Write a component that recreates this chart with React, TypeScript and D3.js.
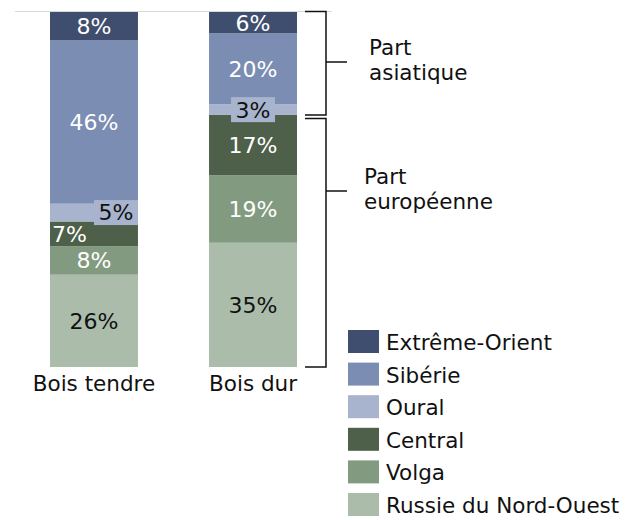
import React from "react";
import * as d3 from "d3";

const categories = ["Bois tendre", "Bois dur"];
const regions = ["Russie du Nord-Ouest", "Volga", "Central", "Oural", "Sibérie", "Extrême-Orient"];
const legendOrder = ["Extrême-Orient", "Sibérie", "Oural", "Central", "Volga", "Russie du Nord-Ouest"];
const boisTendre = [26, 8, 7, 5, 46, 8];
const boisDur = [35, 19, 17, 3, 20, 6];
const colors = ["#abbcab", "#829b80", "#4e6049", "#a8b4ce", "#7b8db2", "#3f4e6e"];
const labelColors = ["#111", "#fff", "#fff", "#111", "#fff", "#fff"];
const groupNames = [["Part", "asiatique"], ["Part", "européenne"]];

const FONT = "'DejaVu Sans', Verdana, sans-serif";

export default function App() {
  const W = 637, H = 520;
  const y = d3.scaleLinear().domain([0, 100]).range([367, 12]);
  const x = d3.scaleBand().domain(categories).range([50, 297]).paddingInner(0.447).paddingOuter(0);
  const data = [boisTendre, boisDur];
  const stack = d3.stack<number[]>().keys(regions.map((_, i) => String(i))).value((d, k) => d[+k]);
  const series = stack(data);
  const bw = x.bandwidth();

  // brace boundaries: European share of the hardwood bar (first 3 regions)
  const euro = d3.sum(boisDur.slice(0, 3));
  const braces = [
    { top: y(100) - 0.5, bot: y(euro) },
    { top: y(euro) + 3.5, bot: y(0) },
  ];
  const bx0 = 305, bx1 = 326, bx2 = 347;

  return (
    <svg width={W} height={H} style={{ position: "absolute", left: 0, top: 0 }} fontFamily={FONT}>
      <line x1={15} x2={332} y1={y(100) - 0.5} y2={y(100) - 0.5} stroke="#d9d9d9" strokeWidth={1} />
      {series.map((s, si) =>
        s.map((d, ci) => {
          const cat = categories[ci];
          const x0 = x(cat)!;
          const y0 = y(d[1]);
          const y1 = y(d[0]);
          return (
            <rect key={si + "-" + ci} x={x0} y={y0} width={bw} height={y1 - y0} fill={colors[si]} />
          );
        })
      )}
      {series.map((s, si) =>
        s.map((d, ci) => {
          const cat = categories[ci];
          const x0 = x(cat)!;
          const cy = (y(d[1]) + y(d[0])) / 2;
          const v = data[ci][si];
          const label = v + "%";
          let tx = x0 + bw / 2;
          let anchor: "middle" | "start" | "end" = "middle";
          let box = false;
          if (si === 3) box = true;
          if (ci === 0 && si === 3) { tx = x0 + bw - 22; }
          if (ci === 0 && si === 2) { tx = x0 + 2; anchor = "start"; }
          const bwid = 44, bh = 25;
          return (
            <g key={"l" + si + "-" + ci}>
              {box && <rect x={tx - bwid / 2} y={cy - bh / 2} width={bwid} height={bh} fill={colors[si]} />}
              <text x={tx} y={cy} dy="0.36em" textAnchor={anchor} fontSize={22} fill={labelColors[si]}>
                {label}
              </text>
            </g>
          );
        })
      )}
      {categories.map((c) => (
        <text key={c} x={x(c)! + bw / 2} y={391} textAnchor="middle" fontSize={21.5} fill="#111">
          {c}
        </text>
      ))}
      {braces.map((b, gi) => {
        const tickY = gi === 0 ? 62 : 191;
        return (
          <g key={gi} stroke="#111" strokeWidth={1.5} fill="none">
            <path d={`M${bx0},${b.top}H${bx1}V${b.bot}H${bx0}`} />
            <line x1={bx1} x2={bx2} y1={tickY} y2={tickY} />
          </g>
        );
      })}
      <g fontSize={21.5} fill="#111">
        <text x={369} y={55}>{groupNames[0][0]}</text>
        <text x={369} y={80}>{groupNames[0][1]}</text>
        <text x={364} y={184}>{groupNames[1][0]}</text>
        <text x={364} y={209}>{groupNames[1][1]}</text>
      </g>
      {legendOrder.map((r, i) => {
        const idx = regions.indexOf(r);
        const ly = 330 + i * 32.6;
        return (
          <g key={r}>
            <rect x={348} y={ly} width={31} height={23} fill={colors[idx]} />
            <text x={386} y={ly + 20} fontSize={21.5} fill="#111">{r}</text>
          </g>
        );
      })}
    </svg>
  );
}
